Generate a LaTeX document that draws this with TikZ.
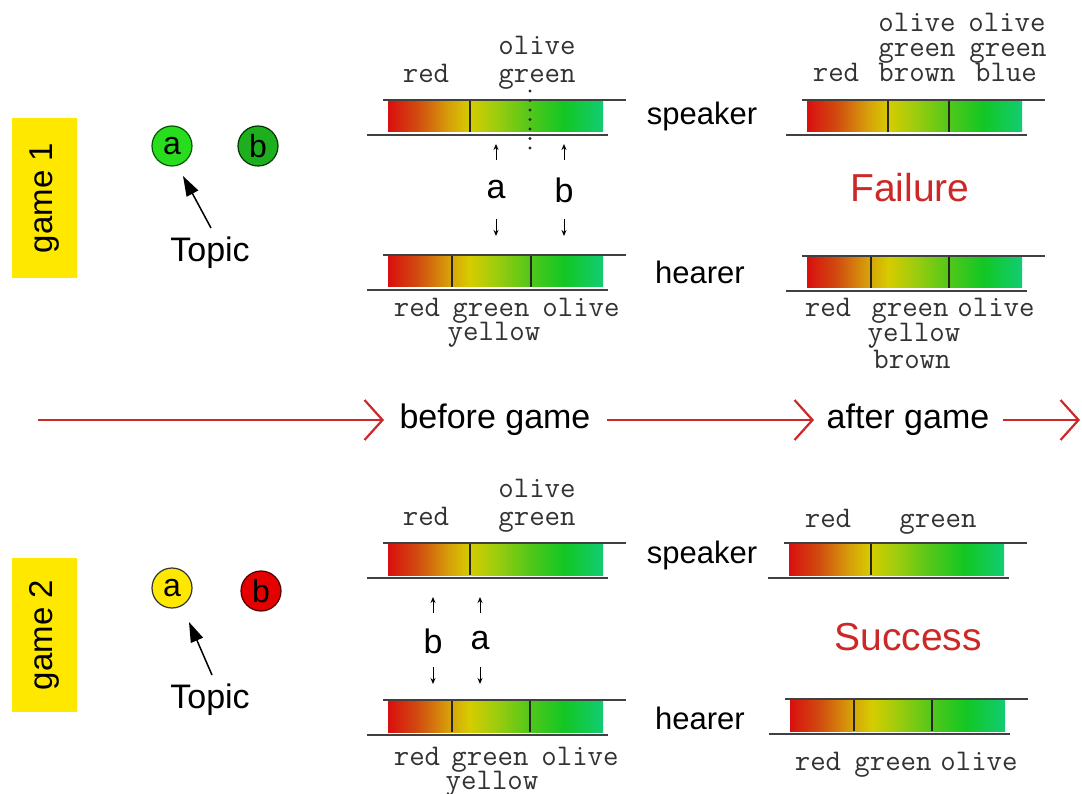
\documentclass[tikz,border=0pt]{standalone}
\usepackage{fontspec}
\setmainfont{Liberation Sans}
\usetikzlibrary{arrows.meta}
\pgfdeclarehorizontalshading{spectrum}{100bp}{rgb(0bp)=(0.85,0.06,0.06); rgb(25bp)=(0.85,0.06,0.06); rgb(32bp)=(0.82,0.30,0.06); rgb(39bp)=(0.84,0.62,0.04); rgb(44bp)=(0.84,0.80,0.0); rgb(50bp)=(0.62,0.80,0.05); rgb(58bp)=(0.32,0.78,0.10); rgb(66bp)=(0.07,0.78,0.14); rgb(75bp)=(0.07,0.80,0.45); rgb(100bp)=(0.07,0.80,0.45)}
\definecolor{tlred}{RGB}{204,40,40}
\definecolor{gyellow}{RGB}{255,232,0}
\definecolor{txtgray}{RGB}{50,50,50}
\definecolor{ballA}{RGB}{40,220,30}
\definecolor{ballB}{RGB}{30,175,30}
\newcommand\specbar[3]{%
  \shade[shading=spectrum] (#1,#2+1) rectangle ++(215,31);
  \foreach \d in {#3} \draw[divider] (#1+\d,#2+1) -- (#1+\d,#2+32);
  \draw[barline] (#1-5,#2) -- (#1+238,#2);
  \draw[barline] (#1-21,#2+35) -- (#1+220,#2+35);
}
\begin{document}
\begin{tikzpicture}[x=1pt,y=-1pt,
  divider/.style={line width=1.3pt, black!85},
  barline/.style={line width=1.6pt, black!75},
  lab/.style={font=\ttfamily\fontsize{30}{30}\selectfont, text=txtgray, anchor=base, inner sep=0pt},
  sans/.style={font=\fontsize{31}{31}\selectfont, inner sep=0pt},
  circ/.style={circle, minimum size=40pt, inner sep=0pt, line width=1.2pt, font=\fontsize{32}{32}\selectfont},
  gamebox/.style={fill=gyellow, minimum width=65pt, minimum height=160pt, inner sep=0pt},
  toparr/.style={line width=1.5pt, -{Triangle[length=20pt,width=13pt]}},
  smallarr/.style={line width=1pt, -{Stealth[length=6pt,width=5pt]}},
  tl/.style={draw=tlred, line width=2.2pt, -{Straight Barb[length=18pt,width=40pt]}},
  result/.style={font=\fontsize{39}{39}\selectfont, text=tlred, inner sep=0pt}]
\useasboundingbox (0,0) rectangle (1082,794);
% ---------- game 1 ----------
\node[gamebox] (g1box) at (44.5,198) {};
\node[rotate=90, font=\fontsize{33}{33}\selectfont] (g1lab) at (g1box.center) {game 1};
\node[circ, fill=ballA, draw=green!35!black] (c1a) at (172,146) {a};
\node[circ, fill=ballB, draw=green!20!black] (c1b) at (258,146) {b};
\node[sans, font=\fontsize{34}{34}\selectfont] (topic1) at (210,253) {Topic};
\coordinate (t1tail) at (211,228);
\coordinate (t1tip) at (183,176);
\draw[toparr] (t1tail) -- (t1tip);

\specbar{388}{100}{82}
\specbar{388}{255}{64,143}
\specbar{807}{100}{81,142}
\specbar{807}{256}{64,142}
\draw[line width=3.2pt, dash pattern=on 0pt off 9.5pt, line cap=round, black!85] (530,91) -- (530,150);

\node[lab] (s1r) at (426,83) {red};
\node[lab] (s1o) at (537,55) {olive};
\node[lab] (s1g) at (537,83) {green};
\node[lab] (h1r) at (417,317) {red};
\node[lab] (h1g) at (491,317) {green};
\node[lab] (h1o) at (581,317) {olive};
\node[lab] (h1y) at (494,341) {yellow};
\node[lab] (s1ao1) at (917,32) {olive};
\node[lab] (s1ao2) at (1007,32) {olive};
\node[lab] (s1ag1) at (917,57) {green};
\node[lab] (s1ag2) at (1008,57) {green};
\node[lab] (s1ar) at (836,82) {red};
\node[lab] (s1ab) at (917,82) {brown};
\node[lab] (s1abl) at (1006,82) {blue};
\node[lab] (h1ar) at (828,317) {red};
\node[lab] (h1ag) at (910,317) {green};
\node[lab] (h1ao) at (996,317) {olive};
\node[lab] (h1ay) at (914,342) {yellow};
\node[lab] (h1ab) at (912,368) {brown};

\node[sans] (spk1) at (702,116) {speaker};
\node[sans] (hea1) at (700,272) {hearer};
\node[result] (fail) at (910,188) {Failure};

\node[font=\fontsize{34}{34}\selectfont, inner sep=0pt] (m1a) at (496,190) {a};
\node[font=\fontsize{34}{34}\selectfont, inner sep=0pt] (m1b) at (564,190) {b};
\coordinate (u1a0) at (496,160); \coordinate (u1a1) at (496,144);
\coordinate (u1b0) at (564,160); \coordinate (u1b1) at (564,144);
\coordinate (d1a0) at (496,219); \coordinate (d1a1) at (496,236);
\coordinate (d1b0) at (564,219); \coordinate (d1b1) at (564,236);
\draw[smallarr] (u1a0) -- (u1a1);
\draw[smallarr] (u1b0) -- (u1b1);
\draw[smallarr] (d1a0) -- (d1a1);
\draw[smallarr] (d1b0) -- (d1b1);

% ---------- timeline ----------
\node[font=\fontsize{34}{34}\selectfont, inner sep=0pt] (before) at (495,420) {before game};
\node[font=\fontsize{34}{34}\selectfont, inner sep=0pt] (after) at (908,420) {after game};
\coordinate (tl0) at (38,420);
\coordinate (tl1) at (384,420);
\coordinate (tl2) at (607,420);
\coordinate (tl3) at (814,420);
\coordinate (tl4) at (1003,420);
\coordinate (tl5) at (1080,420);
\draw[tl] (tl0) -- (tl1);
\draw[tl] (tl2) -- (tl3);
\draw[tl] (tl4) -- (tl5);

% ---------- game 2 ----------
\node[gamebox, minimum height=154pt] (g2box) at (44.5,635) {};
\node[rotate=90, font=\fontsize{33}{33}\selectfont] (g2lab) at (g2box.center) {game 2};
\node[circ, fill=gyellow, draw=black!80] (c2a) at (172,588) {a};
\node[circ, fill=red!90!black, draw=red!30!black] (c2b) at (261,591) {b};
\node[sans, font=\fontsize{34}{34}\selectfont] (topic2) at (210,700) {Topic};
\coordinate (t2tail) at (212,675);
\coordinate (t2tip) at (189,622);
\draw[toparr] (t2tail) -- (t2tip);

\specbar{388}{543}{82}
\specbar{789}{543}{82}
\specbar{388}{700}{64,142}
\specbar{790}{699}{64,142}

\node[lab] (s2r) at (426,525) {red};
\node[lab] (s2o) at (537,497) {olive};
\node[lab] (s2g) at (537,525) {green};
\node[lab] (s2ar) at (828,527) {red};
\node[lab] (s2ag) at (938,527) {green};
\node[lab] (h2r) at (417,765) {red};
\node[lab] (h2g) at (490,765) {green};
\node[lab] (h2o) at (580,765) {olive};
\node[lab] (h2y) at (492,789) {yellow};
\node[lab] (h2ar) at (818,770) {red};
\node[lab] (h2ag) at (893,770) {green};
\node[lab] (h2ao) at (979,770) {olive};

\node[sans] (spk2) at (702,555) {speaker};
\node[sans] (hea2) at (700,718) {hearer};
\node[result] (succ) at (908,637) {Success};

\node[font=\fontsize{34}{34}\selectfont, inner sep=0pt] (m2b) at (433,641) {b};
\node[font=\fontsize{34}{34}\selectfont, inner sep=0pt] (m2a) at (480,641) {a};
\coordinate (u2b0) at (433,613); \coordinate (u2b1) at (433,597);
\coordinate (u2a0) at (480,613); \coordinate (u2a1) at (480,597);
\coordinate (d2b0) at (433,667); \coordinate (d2b1) at (433,684);
\coordinate (d2a0) at (480,667); \coordinate (d2a1) at (480,684);
\draw[smallarr] (u2b0) -- (u2b1);
\draw[smallarr] (u2a0) -- (u2a1);
\draw[smallarr] (d2b0) -- (d2b1);
\draw[smallarr] (d2a0) -- (d2a1);
\end{tikzpicture}
\end{document}
